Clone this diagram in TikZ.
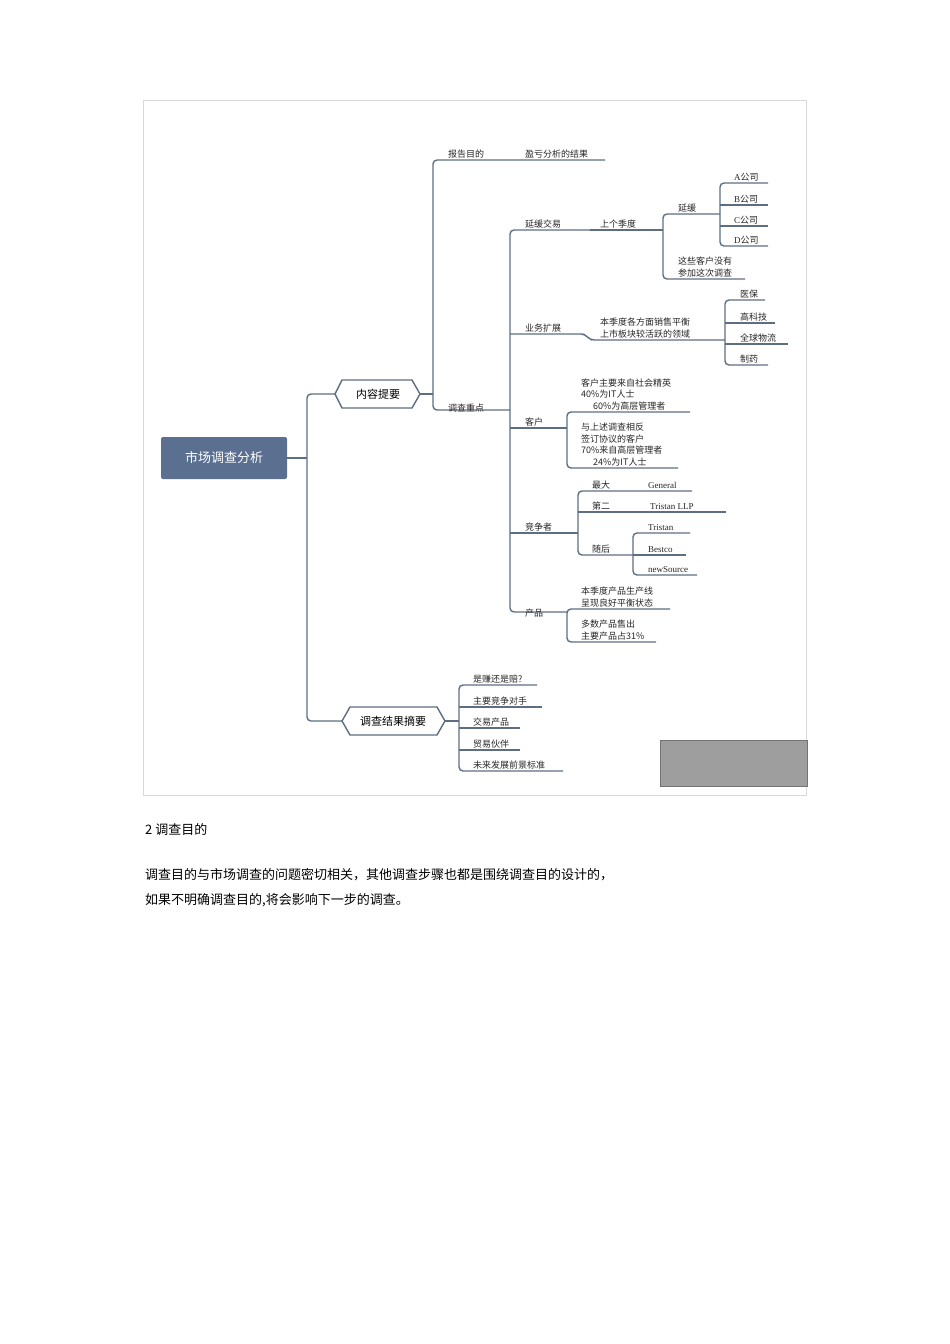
\documentclass[tikz,border=0pt]{standalone}
\usepackage{fontspec}
\setmainfont{Noto Sans CJK SC}
\newfontfamily\lat{Liberation Serif}
\definecolor{ln}{HTML}{5E6E82}
\definecolor{rootc}{HTML}{5B7090}
\newcommand\ul[3]{\draw[lnk] (#1,#2) -- (#3,#2);}
\begin{document}
\begin{tikzpicture}[x=1pt,y=-1pt,
  lnk/.style={draw=ln,line width=1.4pt,rounded corners=4pt},
  tx/.style={anchor=south west,inner sep=0pt,font=\fontsize{9}{11.5}\selectfont,text=black!85,align=left},
  hex/.style={draw=ln,line width=1.4pt,fill=white}]
\useasboundingbox (0,0) rectangle (950,1344);
\draw[black!15,line width=0.8pt] (143,100) rectangle (806,795);
% root
\node[fill=rootc,rounded corners=2pt,minimum width=126pt,minimum height=42pt,text=white,font=\fontsize{13}{15}\selectfont] (root) at (224,458) {市场调查分析};
% main spine
\draw[lnk] (root.east) -- (307,458);
\draw[lnk] (335,394) -- (307,394) -- (307,721) -- (342,721);
% hexagons
\draw[hex] (342,380) -- (412,380) -- (420,394) -- (412,408) -- (342,408) -- (335,394) -- cycle;
\node[font=\fontsize{11}{13}\selectfont] (nrty) at (378,394) {内容提要};
\draw[hex] (350,707) -- (437,707) -- (445,721) -- (437,735) -- (350,735) -- (342,721) -- cycle;
\node[font=\fontsize{11}{13}\selectfont] (dcjg) at (393,721) {调查结果摘要};
% 内容提要 branch
\draw[lnk] (420,394) -- (433,394);
\draw[lnk] (605,160) -- (433,160) -- (433,410) -- (510,410);
\node[tx] (bgmd) at (448,158) {报告目的};
\node[tx] (ykfx) at (525,158) {盈亏分析的结果};
\node[tx] (dczd) at (448,412) {调查重点};
% 调查重点 spine
\draw[lnk] (590,230) -- (510,230) -- (510,612) -- (567,612);
\draw[lnk] (510,334) -- (585,334) -- (590,340) -- (725,340);
\draw[lnk] (510,428) -- (567,428);
\draw[lnk] (510,533) -- (578,533);
% 延缓交易
\node[tx] (yhjy) at (525,228) {延缓交易};
\draw[lnk] (590,230) -- (663,230);
\node[tx] (sgjd) at (600,228) {上个季度};
\draw[lnk] (720,214) -- (663,214) -- (663,279) -- (745,279);
\node[tx] (yh) at (678,212) {延缓};
\node[tx] (zxkh) at (678,277) {这些客户没有\\参加这次调查};
\draw[lnk] (768,183) -- (720,183) -- (720,246) -- (768,246);
\ul{720}{205}{768}\ul{720}{226}{768}
\node[tx] (a) at (734,181) {{\lat A}公司};
\node[tx] (b) at (734,203) {{\lat B}公司};
\node[tx] (c) at (734,224) {{\lat C}公司};
\node[tx] (d) at (734,244) {{\lat D}公司};
% 业务扩展
\node[tx] (ywkz) at (525,332) {业务扩展};
\node[tx] (bjd) at (600,338) {本季度各方面销售平衡\\上市板块较活跃的领域};
\draw[lnk] (765,300) -- (725,300) -- (725,365) -- (768,365);
\ul{725}{323}{775}\ul{725}{344}{788}
\node[tx] (yb) at (740,298) {医保};
\node[tx] (gkj) at (740,321) {高科技};
\node[tx] (qqwl) at (740,342) {全球物流};
\node[tx] (zy) at (740,363) {制药};
% 客户
\node[tx] (kh) at (525,426) {客户};
\draw[lnk] (690,412) -- (567,412) -- (567,468) -- (678,468);
\node[tx] (kh1) at (581,410) {客户主要来自社会精英\\40\%为IT人士\\\hspace*{12pt}60\%为高层管理者};
\node[tx] (kh2) at (581,466) {与上述调查相反\\签订协议的客户\\70\%来自高层管理者\\\hspace*{12pt}24\%为IT人士};
% 竞争者
\node[tx] (jzz) at (525,531) {竞争者};
\draw[lnk] (692,491) -- (578,491) -- (578,555) -- (633,555);
\ul{578}{512}{726}
\node[tx] (zd) at (592,489) {最大};
\node[tx] (gen) at (648,489) {\lat General};
\node[tx] (de) at (592,510) {第二};
\node[tx] (tri) at (650,510) {\lat Tristan LLP};
\node[tx] (sh) at (592,553) {随后};
\draw[lnk] (690,533) -- (633,533) -- (633,575) -- (697,575);
\ul{633}{555}{686}
\node[tx] (t2) at (648,531) {\lat Tristan};
\node[tx] (bes) at (648,553) {\lat Bestco};
\node[tx] (nsr) at (648,573) {\lat newSource};
% 产品
\node[tx] (cp) at (525,617) {产品};
\draw[lnk] (670,609) -- (567,609) -- (567,642) -- (656,642);
\node[tx] (cp1) at (581,607) {本季度产品生产线\\呈现良好平衡状态};
\node[tx] (cp2) at (581,640) {多数产品售出\\主要产品占31\%};
% 调查结果摘要
\draw[lnk] (445,721) -- (459,721);
\draw[lnk] (537,685) -- (459,685) -- (459,771) -- (563,771);
\ul{459}{707}{542}\ul{459}{728}{520}\ul{459}{750}{520}
\node[tx] (s1) at (473,683) {是赚还是赔?};
\node[tx] (s2) at (473,705) {主要竞争对手};
\node[tx] (s3) at (473,726) {交易产品};
\node[tx] (s4) at (473,748) {贸易伙伴};
\node[tx] (s5) at (473,769) {未来发展前景标准};
% gray box
\draw[fill=black!38,draw=black!55,line width=1pt] (660,740) rectangle (807,786);
% text below
\node[anchor=west,inner sep=0pt,font=\fontsize{13}{16}\selectfont] (h2) at (145,830) {2 调查目的};
\node[anchor=north west,inner sep=0pt,font=\fontsize{13}{25}\selectfont,text width=680pt,align=left] (par) at (145,868) {调查目的与市场调查的问题密切相关，其他调查步骤也都是围绕调查目的设计的，\\如果不明确调查目的,将会影响下一步的调查。};
\end{tikzpicture}
\end{document}
